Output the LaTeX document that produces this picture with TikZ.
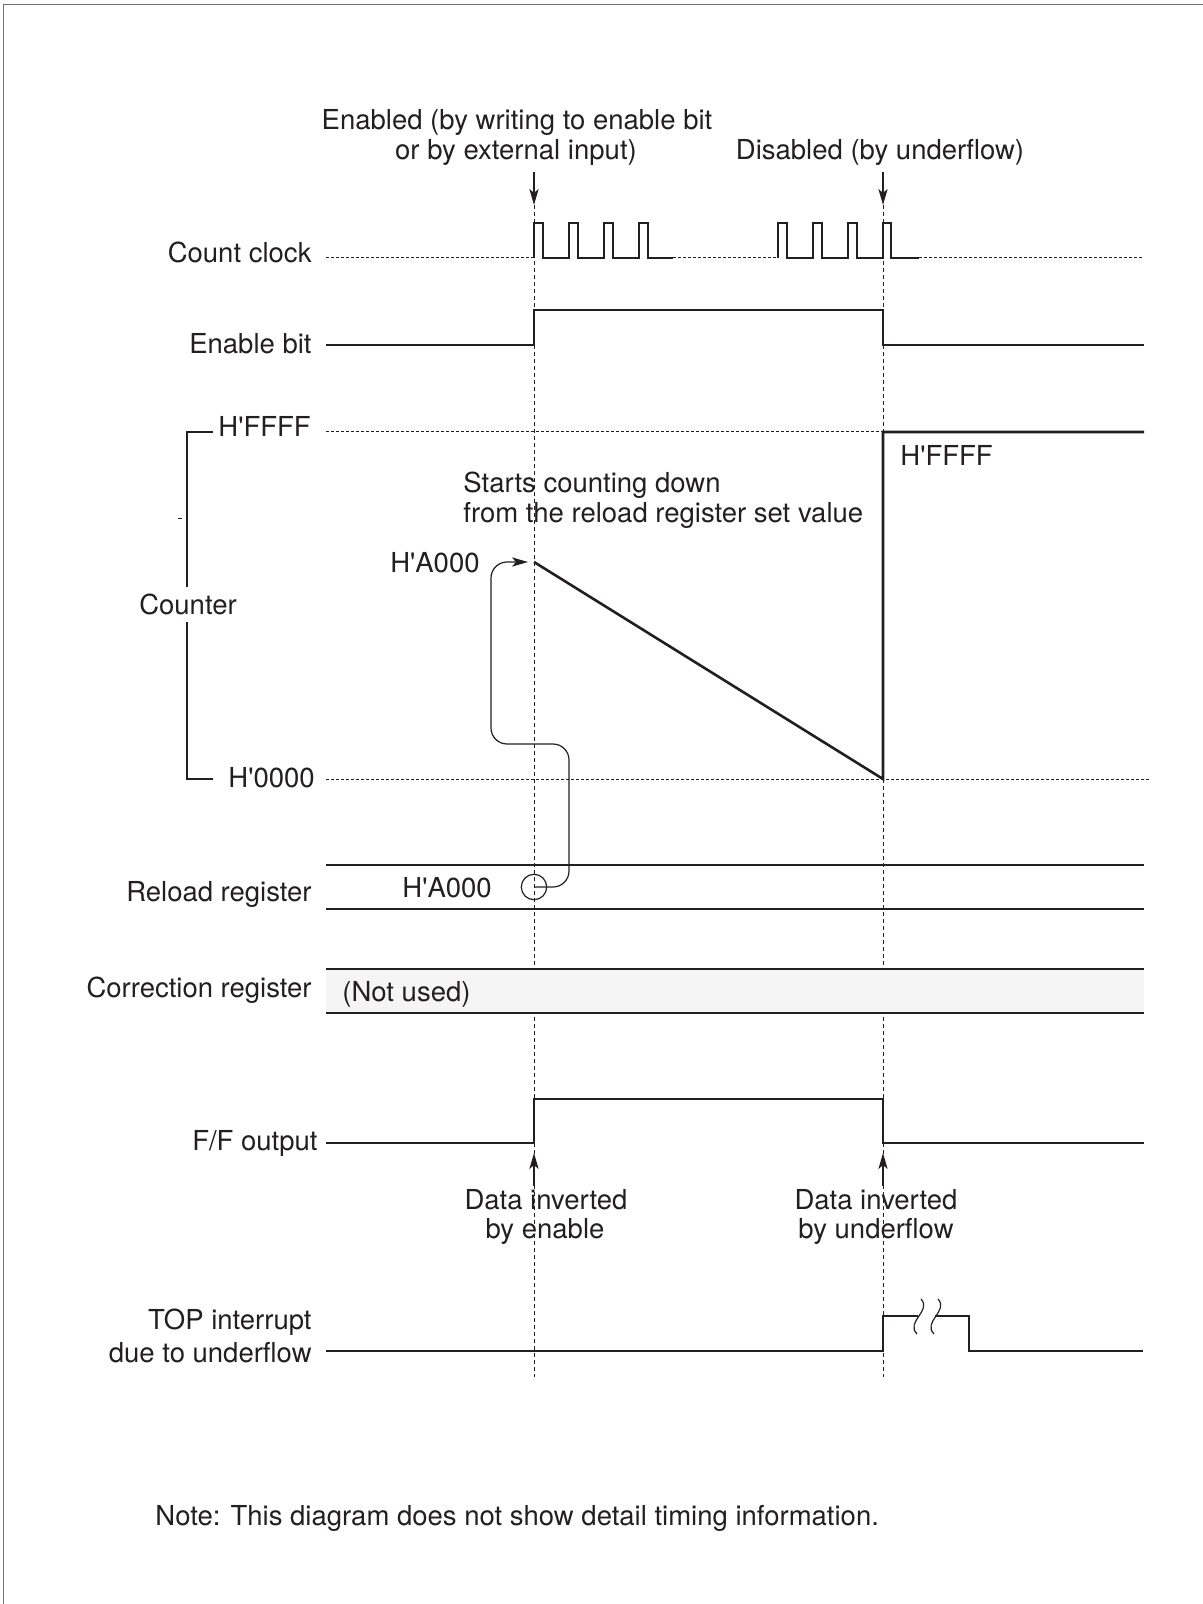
\documentclass[tikz,border=0pt]{standalone}
\usepackage{fontspec}
\setmainfont{TeX Gyre Heros}
\usetikzlibrary{arrows.meta}
\definecolor{ink}{HTML}{231F20}
\definecolor{framegray}{HTML}{707070}
\definecolor{bandgray}{HTML}{F5F5F5}
\newcommand{\aps}{\textquotesingle}
\begin{document}
\begin{tikzpicture}[x=0.5pt,y=-0.5pt,
  txt/.style={font=\fontsize{13.75}{16}\selectfont, text=ink, inner sep=0pt},
  lbl/.style={txt, anchor=base east},
  lblw/.style={txt, anchor=base west},
  lblc/.style={txt, anchor=base},
  sig/.style={draw=ink, line width=0.6pt},
  thicksig/.style={draw=ink, line width=1.3pt, line join=miter},
  guide/.style={draw=ink, line width=0.5pt, dash pattern=on 2pt off 1.5pt},
  level/.style={draw=ink, line width=0.5pt, dash pattern=on 1.5pt off 1pt},
  arr/.style={draw=ink, line width=0.6pt, -{Stealth[length=8pt,width=4.6pt,inset=2pt]}},
]
\useasboundingbox (0,0) rectangle (1203,1604);
% frame
\draw[framegray, line width=0.9pt] (3.5,1604) -- (3.5,4.5) -- (1203,4.5);

% coordinates of the time marks
\coordinate (tE) at (534,205);
\coordinate (tD) at (883,205);
\coordinate (tEend) at (534,1377);
\coordinate (tDend) at (883,1377);

% top labels
\node[lblc] (en1) at (517,130) {Enabled (by writing to enable bit};
\node[lblc] (en2) at (516,160) {or by external input)};
\node[lblc] (dis) at (880,160) {Disabled (by underflow)};
\coordinate (enA) at (534,172);
\coordinate (disA) at (883,172);
\draw[arr] (enA) -- (tE);
\draw[arr] (disA) -- (tD);

% guide lines
\draw[guide] (tE) -- (tEend);
\draw[guide] (tD) -- (tDend);

% Count clock
\node[lbl] (lclk) at (312,263) {Count clock};
\draw[level] (326,258) -- (534,258);
\draw[sig] (534,258) -- (534,223) -- (543,223) -- (543,258) -- (569,258) -- (569,223) -- (578,223) -- (578,258)
  -- (604,258) -- (604,223) -- (613,223) -- (613,258) -- (639,258) -- (639,223) -- (648,223) -- (648,258) -- (673,258);
\draw[level] (673,258) -- (778,258);
\draw[sig] (778,258) -- (778,223) -- (787,223) -- (787,258) -- (813,258) -- (813,223) -- (822,223) -- (822,258)
  -- (848,258) -- (848,223) -- (857,223) -- (857,258) -- (883,258) -- (883,223) -- (891,223) -- (891,258) -- (919,258);
\draw[level] (919,258) -- (1144,258);

% Enable bit
\node[lbl] (len) at (312,354) {Enable bit};
\draw[sig] (326,345) -- (534,345) -- (534,310) -- (883,310) -- (883,345) -- (1144,345);

% Counter
\node[lblw] (lff) at (218,437) {H\aps FFFF};
\node[lblc] (lcnt) at (188,614) {Counter};
\node[lblw] (l00) at (228,787) {H\aps 0000};
\draw[sig] (213,432) -- (187,432) -- (187,587);
\draw[sig] (187,622) -- (187,779) -- (213,779);
\draw[sig, line width=0.4pt] (178,518) -- (182,518);
\draw[level] (326,432) -- (883,432);
\draw[level] (326,779) -- (1151,779);
\coordinate (ramp0) at (534,562);
\coordinate (ramp1) at (883,779);
\draw[thicksig] (ramp0) -- (ramp1) -- (883,432) -- (1144,432);
\node[lblw] (hff2) at (900,466) {H\aps FFFF};
\node[lblw] (st1) at (463,492) {Starts counting down};
\node[lblw] (st2) at (463,522) {from the reload register set value};
\node[txt, anchor=base east] (ha1) at (480,572) {H\aps A000};

% Reload register
\node[lbl] (lrl) at (312,901) {Reload register};
\draw[sig] (326,865) -- (1144,865);
\draw[sig] (326,909) -- (1144,909);
\node[lblw] (ha2) at (402,897) {H\aps A000};
\node[circle, draw=ink, line width=0.6pt, minimum size=12.7pt, inner sep=0pt] (ring) at (534,887) {};
\draw[arr, rounded corners=8pt] (ring.center) -- (569,887) -- (569,744) -- (491,744) -- (491,562) -- ([xshift=-3pt]ramp0);

% Correction register
\fill[bandgray] (326,969) rectangle (1144,1013);
\draw[sig] (326,969) -- (1144,969);
\draw[sig] (326,1013) -- (1144,1013);
\node[lbl] (lcr) at (312,997) {Correction register};
\node[lblw] (nu) at (342,1001) {(Not used)};

% F/F output
\node[lbl] (lffo) at (318,1150) {F/F output};
\draw[sig] (326,1143) -- (534,1143) -- (534,1099) -- (883,1099) -- (883,1143) -- (1144,1143);
\coordinate (upE) at (534,1186);
\coordinate (upD) at (883,1186);
\draw[arr] (upE) -- (534,1153);
\draw[arr] (upD) -- (883,1153);
\node[lblc] (di1) at (546,1209) {Data inverted};
\node[lblc] (di2) at (545,1238) {by enable};
\node[lblc] (du1) at (876,1209) {Data inverted};
\node[lblc] (du2) at (876,1238) {by underflow};

% TOP interrupt
\node[lbl] (top1) at (312,1329) {TOP interrupt};
\node[lbl] (top2) at (312,1362) {due to underflow};
\draw[sig] (326,1351) -- (883,1351) -- (883,1316) -- (918,1316);
\draw[sig] (935,1316) -- (969,1316) -- (969,1351) -- (1143,1351);
\draw[sig] (921,1299) .. controls (932,1311) and (905,1322) .. (917,1334);
\draw[sig] (938,1299) .. controls (949,1311) and (922,1322) .. (934,1334);

% note
\node[lblw] (note) at (155,1525) {Note: This diagram does not show detail timing information.};
\end{tikzpicture}
\end{document}
